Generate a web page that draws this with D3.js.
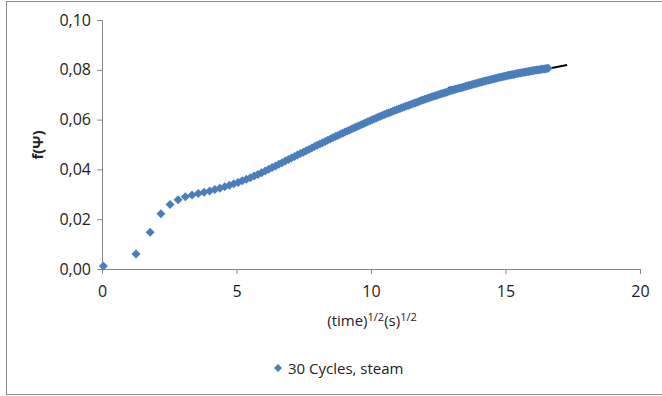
<!DOCTYPE html>
<html><head><meta charset="utf-8">
<script src="https://cdn.jsdelivr.net/npm/d3@7"></script>
<style>body{margin:0;background:#fff}svg{display:block}text{font-family:"Open Sans",sans-serif;fill:#222}</style>
</head><body><svg id="c" width="662" height="396"></svg>
<script>
const seriesName = "30 Cycles, steam";
const xTicks = [0, 5, 10, 15, 20];
const yTicks = [0, 0.02, 0.04, 0.06, 0.08, 0.10];
const xValues = [0.05,1.265,1.789,2.191,2.530,2.828,3.098,3.347,3.578,3.795,4.000,4.195,4.382,4.561,4.733,4.899,5.060,5.215,5.367,5.514,5.657,5.797,5.933,6.066,6.197,6.325,6.450,6.573,6.693,6.812,6.928,7.043,7.155,7.266,7.376,7.483,7.589,7.694,7.797,7.899,8.000,8.099,8.198,8.295,8.390,8.485,8.579,8.672,8.764,8.854,8.944,9.033,9.121,9.209,9.295,9.381,9.466,9.550,9.633,9.716,9.798,9.879,9.960,10.040,10.119,10.198,10.276,10.354,10.431,10.507,10.583,10.658,10.733,10.807,10.881,10.954,11.027,11.100,11.171,11.243,11.314,11.384,11.454,11.524,11.593,11.662,11.730,11.798,11.866,11.933,12.000,12.066,12.133,12.198,12.264,12.329,12.394,12.458,12.522,12.586,12.649,12.712,12.775,12.837,12.900,12.961,13.023,13.084,13.145,13.206,13.266,13.327,13.387,13.446,13.506,13.565,13.624,13.682,13.740,13.799,13.856,13.914,13.971,14.029,14.085,14.142,14.199,14.255,14.311,14.367,14.422,14.478,14.533,14.588,14.642,14.697,14.751,14.805,14.859,14.913,14.967,15.020,15.073,15.126,15.179,15.232,15.284,15.336,15.388,15.440,15.492,15.543,15.595,15.646,15.697,15.748,15.799,15.849,15.900,15.950,16.000,16.050,16.100,16.149,16.199,16.248,16.297,16.346,16.395,16.444,16.492,16.541,16.589];
const yValues = [0.0012,0.0060,0.0148,0.0222,0.0259,0.0278,0.0290,0.0297,0.0303,0.0308,0.0313,0.0319,0.0324,0.0330,0.0336,0.0342,0.0347,0.0354,0.0360,0.0366,0.0373,0.0380,0.0387,0.0394,0.0401,0.0408,0.0414,0.0421,0.0427,0.0434,0.0440,0.0446,0.0452,0.0458,0.0464,0.0469,0.0475,0.0480,0.0486,0.0492,0.0497,0.0502,0.0507,0.0512,0.0517,0.0522,0.0527,0.0532,0.0536,0.0541,0.0545,0.0550,0.0554,0.0558,0.0563,0.0567,0.0571,0.0575,0.0579,0.0583,0.0587,0.0591,0.0595,0.0599,0.0602,0.0606,0.0610,0.0613,0.0617,0.0620,0.0624,0.0627,0.0630,0.0634,0.0637,0.0640,0.0643,0.0646,0.0649,0.0652,0.0655,0.0657,0.0660,0.0663,0.0666,0.0668,0.0671,0.0674,0.0677,0.0679,0.0682,0.0684,0.0687,0.0689,0.0692,0.0694,0.0696,0.0698,0.0701,0.0703,0.0705,0.0707,0.0709,0.0711,0.0714,0.0716,0.0718,0.0720,0.0722,0.0724,0.0726,0.0727,0.0729,0.0731,0.0733,0.0735,0.0737,0.0738,0.0740,0.0742,0.0744,0.0745,0.0747,0.0749,0.0750,0.0752,0.0754,0.0755,0.0757,0.0758,0.0760,0.0761,0.0763,0.0764,0.0766,0.0767,0.0769,0.0770,0.0771,0.0773,0.0774,0.0775,0.0777,0.0778,0.0779,0.0780,0.0781,0.0782,0.0784,0.0785,0.0786,0.0787,0.0788,0.0789,0.0790,0.0791,0.0792,0.0793,0.0794,0.0795,0.0796,0.0797,0.0798,0.0799,0.0799,0.0800,0.0801,0.0802,0.0803,0.0803,0.0804,0.0805,0.0806];
const trendX = [12.86, 17.29];
const trendY = [0.0727, 0.0819];

const svg = d3.select("#c");
const x = d3.scaleLinear().domain([0, 20]).range([102, 640]);
const y = d3.scaleLinear().domain([0, 0.10]).range([269, 20]);
const axisColor = "#868686";
const blue = "#4a7ebb";

svg.append("rect").attr("x", 6.5).attr("y", 1.5).attr("width", 700).attr("height", 393)
  .attr("fill", "#fff").attr("stroke", "#8c8c8c");

const fmt = d => d3.format(".2f")(d).replace(".", ",");

const gy = svg.append("g").attr("transform", "translate(102,0)")
  .call(d3.axisLeft(y).tickValues(yTicks).tickFormat(fmt).tickSizeOuter(0).tickSize(5).tickPadding(6));
const gx = svg.append("g").attr("transform", "translate(0,269)")
  .call(d3.axisBottom(x).tickValues(xTicks).tickFormat(d3.format("d")).tickSizeOuter(0).tickSize(5).tickPadding(12));
[gx, gy].forEach(g => {
  g.select(".domain").attr("stroke", axisColor);
  g.selectAll(".tick line").attr("stroke", axisColor);
  g.selectAll(".tick text").style("font-family", "'Open Sans',sans-serif").style("font-size", "16px").attr("fill", "#222");
});

// trendline (under the markers)
svg.append("line").attr("x1", x(trendX[0])).attr("y1", y(trendY[0]))
  .attr("x2", x(trendX[1])).attr("y2", y(trendY[1]))
  .attr("stroke", "#000").attr("stroke-width", 2);

// markers
const diamond = r => `M0,${-r}L${r},0L0,${r}L${-r},0Z`;
svg.append("g").selectAll("path").data(xValues.map((v, i) => [v, yValues[i]])).join("path")
  .attr("d", diamond(4.5)).attr("fill", blue)
  .attr("transform", d => `translate(${x(d[0])},${y(d[1])})`);

// axis titles
const xt = svg.append("text").attr("x", 372).attr("y", 326).attr("text-anchor", "middle")
  .style("font-size", "15px");
xt.append("tspan").text("(time)");
xt.append("tspan").attr("dy", -5).style("font-size", "11px").text("1/2");
xt.append("tspan").attr("dy", 5).text("(s)");
xt.append("tspan").attr("dy", -5).style("font-size", "11px").text("1/2");

svg.append("text").attr("transform", "translate(43,145) rotate(-90)").attr("text-anchor", "middle")
  .style("font-size", "15px").style("font-weight", "bold").text("f(Ψ)");

// legend
svg.append("path").attr("d", diamond(4)).attr("fill", blue).attr("transform", "translate(278,368)");
svg.append("text").attr("x", 288).attr("y", 374).style("font-size", "15px").text(seriesName);
</script></body></html>
